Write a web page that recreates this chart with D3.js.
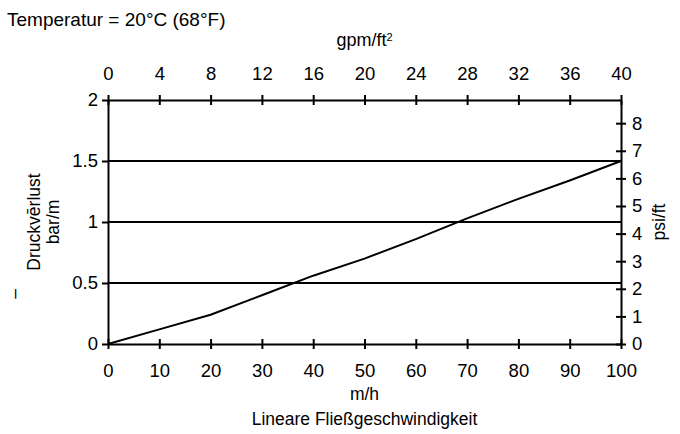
<!DOCTYPE html>
<html>
<head>
<meta charset="utf-8">
<script src="https://cdn.jsdelivr.net/npm/d3@7"></script>
<style>
    body { margin: 0; background: #fff; }
    text { font-family: "Liberation Sans", Arial, Helvetica, sans-serif; fill: #000; }
    .axis path, .axis line { stroke: #000; stroke-width: 2px; }
    .axis text { font-size: 18.5px; }
    .title { font-size: 17.5px; }
</style>
</head>
<body>
<div id="chart"></div>
<script>
// flow velocity (m/h) vs pressure loss (bar/m)
var flowMh = [0, 10, 20, 30, 40, 50, 60, 70, 80, 90, 100];
var lossBarM = [0, 0.12, 0.24, 0.40, 0.56, 0.70, 0.86, 1.03, 1.19, 1.34, 1.50];

var bottomTicks = [0, 10, 20, 30, 40, 50, 60, 70, 80, 90, 100];
var topTicks = [0, 4, 8, 12, 16, 20, 24, 28, 32, 36, 40];
var leftTicks = [0, 0.5, 1, 1.5, 2];
var rightTicks = [0, 1, 2, 3, 4, 5, 6, 7, 8];
var gridValues = [0.5, 1, 1.5];

var psiPerBar = 4.42;

var margin = {top: 100, right: 59, bottom: 90, left: 108};
var width = 680 - margin.left - margin.right,
    height = 434 - margin.top - margin.bottom;

var root = d3.select("#chart").append("svg")
    .attr("width", 680)
    .attr("height", 434);

var svg = root.append("g")
    .attr("transform", "translate(" + margin.left + "," + margin.top + ")");

// scales
var x = d3.scaleLinear().domain([0, 100]).range([0, width]);
var xTop = d3.scaleLinear().domain([0, 40]).range([0, width]);
var y = d3.scaleLinear().domain([0, 2]).range([height, 0]);
var yRight = d3.scaleLinear().domain([0, 2 * psiPerBar]).range([height, 0]);

// horizontal grid lines
svg.selectAll(".grid")
    .data(gridValues)
    .enter()
    .append("line")
    .attr("class", "grid")
    .attr("x1", 0)
    .attr("x2", width)
    .attr("y1", function(d) { return y(d); })
    .attr("y2", function(d) { return y(d); })
    .style("stroke", "#000")
    .style("stroke-width", "2px");

// axes
var xAxis = d3.axisBottom(x).tickValues(bottomTicks).tickSize(5).tickSizeOuter(0).tickPadding(15);
var xAxisTop = d3.axisTop(xTop).tickValues(topTicks).tickSize(5).tickSizeOuter(0).tickPadding(15);
var yAxis = d3.axisLeft(y).tickValues(leftTicks).tickSize(6).tickSizeOuter(0).tickPadding(4)
    .tickFormat(function(d) { return d; });
var yAxisRight = d3.axisRight(yRight).tickValues(rightTicks).tickSize(5).tickSizeOuter(0).tickPadding(6);

svg.append("g")
    .attr("class", "x-axis axis")
    .attr("transform", "translate(0," + height + ")")
    .call(xAxis)
    .selectAll(".tick line").attr("y1", -5);

svg.append("g")
    .attr("class", "x-axis-top axis")
    .call(xAxisTop)
    .selectAll(".tick line").attr("y1", 5);

svg.append("g")
    .attr("class", "y-axis axis")
    .call(yAxis);

svg.append("g")
    .attr("class", "y-axis-right axis")
    .attr("transform", "translate(" + width + ",0)")
    .call(yAxisRight)
    .selectAll(".tick line").attr("x1", -5);

svg.selectAll(".axis text").attr("font-family", null);

// data line
var line = d3.line()
    .x(function(d, i) { return x(flowMh[i]); })
    .y(function(d) { return y(d); });

svg.append("path")
    .datum(lossBarM)
    .attr("d", line)
    .style("fill", "none")
    .style("stroke", "#000")
    .style("stroke-width", "2px")
    .style("stroke-linejoin", "round");

// titles
root.append("text")
    .attr("x", 7)
    .attr("y", 26)
    .style("font-size", "19px")
    .text("Temperatur = 20°C (68°F)");

var gpm = root.append("text")
    .attr("class", "title")
    .attr("x", margin.left + width / 2)
    .attr("y", 46)
    .style("text-anchor", "middle")
    .style("font-size", "18px");
gpm.append("tspan").text("gpm/ft");
gpm.append("tspan").attr("dy", "-0.45em").style("font-size", "11px").text("2");

root.append("text")
    .attr("class", "title")
    .attr("x", margin.left + width / 2)
    .attr("y", 400)
    .style("text-anchor", "middle")
    .text("m/h");

root.append("text")
    .attr("class", "title")
    .attr("x", margin.left + width / 2)
    .attr("y", 425)
    .style("text-anchor", "middle")
    .text("Lineare Fließgeschwindigkeit");

root.append("text")
    .attr("class", "title")
    .attr("transform", "translate(40,222) rotate(-90)")
    .style("text-anchor", "middle")
    .text("Druckvērlust");

root.append("text")
    .attr("class", "title")
    .attr("transform", "translate(59,222) rotate(-90)")
    .style("text-anchor", "middle")
    .text("bar/m");

root.append("text")
    .attr("class", "title")
    .attr("transform", "translate(20,294) rotate(-90)")
    .style("text-anchor", "middle")
    .text("–");

root.append("text")
    .attr("class", "title")
    .attr("transform", "translate(665,222) rotate(-90)")
    .style("text-anchor", "middle")
    .text("psi/ft");
</script>
</body>
</html>
